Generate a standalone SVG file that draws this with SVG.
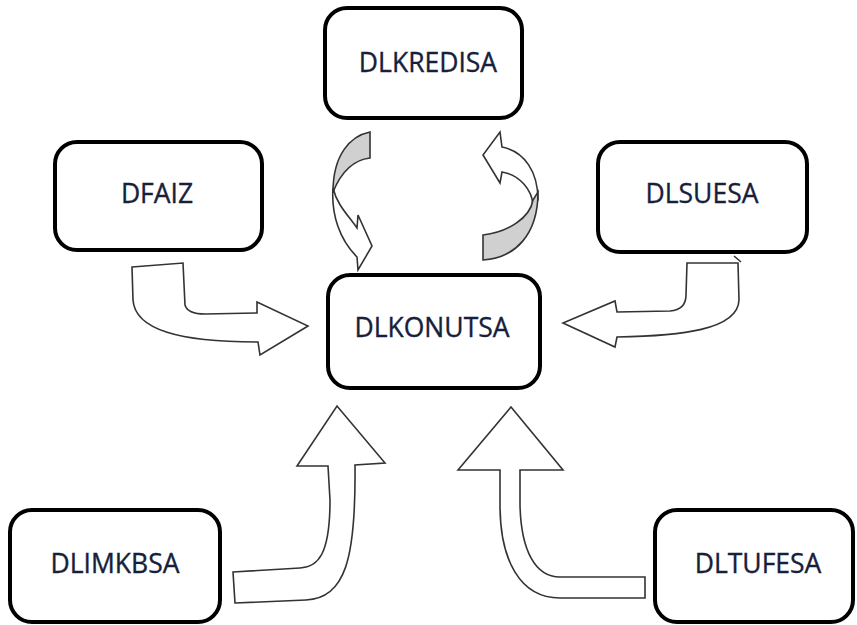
<svg xmlns="http://www.w3.org/2000/svg" width="857" height="625" viewBox="0 0 857 625">
  <style>
    .box { fill: #ffffff; stroke: #000000; stroke-width: 4; }
    .label { font-family: "Open Sans", "Liberation Sans", sans-serif; font-size: 26.5px; fill: #17203a; stroke: #17203a; stroke-width: 0.35; text-anchor: middle; }
    .arrow { fill: #ffffff; stroke: #333333; stroke-width: 1.6; stroke-linejoin: miter; }
    .back { fill: #d0d0d0; stroke: #333333; stroke-width: 1.6; }
  </style>
  <rect width="857" height="625" fill="#ffffff"/>

  <g id="connectors">
    <!-- DFAIZ to DLKONUTSA -->
    <path class="arrow" d="M132,267 L183,263 L185,305 C187,312 195,314 205,314 L257,313 L257,302 L308,326 L260,355 L258,342 C180,342 135,330 133,300 Z"/>
    <!-- DLSUESA to DLKONUTSA -->
    <path class="arrow" stroke="#555555" d="M687,263 L738,263 L739,300 C738,330 680,336 617,337 L615,347 L563,323 L615,301 L617,312 L670,311 C682,310 686,303 686,295 Z"/>
    <path class="arrow" d="M734,256 L741,262"/>
    <!-- DLIMKBSA to DLKONUTSA -->
    <path class="arrow" d="M233,572 L300,568 C318,567 330,555 330,500 L328,466 L297,466 L337,406 L385,463 L355,465 C356,560 345,598 306,600 L235,603 Z"/>
    <!-- DLTUFESA to DLKONUTSA -->
    <path class="arrow" d="M458,470 L511,407 L563,470 L520,470 L520,505 C521,550 535,577 560,577 L645,577 L645,598 L560,598 C520,598 500,560 500,505 L500,470 Z"/>
    <!-- DLKREDISA to DLKONUTSA (circular, left) -->
    <path class="arrow" d="M333,188 C331,215 340,240 357,257 L358,270 L372,246 L358,215 L357,228 C348,215 337,205 333,188 Z"/>
    <path class="back" d="M370,132 C350,136 333,155 333,192 C340,175 352,160 370,158 Z"/>
    <!-- DLKONUTSA to DLKREDISA (circular, right) -->
    <path class="arrow" d="M500,132 L502,147 C525,152 538,172 538,200 L533,205 C532,190 520,175 502,172 L500,183 L483,155 Z"/>
    <path class="back" d="M538,192 C538,235 515,258 483,260 L483,235 C508,232 530,218 533,200 Z"/>
  </g>

  <g id="node-dlkredisa">
    <rect class="box" x="325" y="8" width="197" height="110" rx="22"/>
    <text class="label" x="428" y="72">DLKREDISA</text>
  </g>
  <g id="node-dfaiz">
    <rect class="box" x="55" y="142" width="207" height="108" rx="22"/>
    <text class="label" x="157" y="203">DFAIZ</text>
  </g>
  <g id="node-dlsuesa">
    <rect class="box" x="598" y="142" width="209" height="110" rx="22"/>
    <text class="label" x="702" y="203">DLSUESA</text>
  </g>
  <g id="node-dlkonutsa">
    <rect class="box" x="328" y="275" width="212" height="113" rx="22"/>
    <text class="label" x="432" y="337">DLKONUTSA</text>
  </g>
  <g id="node-dlimkbsa">
    <rect class="box" x="10" y="510" width="210" height="112" rx="22"/>
    <text class="label" x="115" y="573">DLIMKBSA</text>
  </g>
  <g id="node-dltufesa">
    <rect class="box" x="655" y="510" width="198" height="112" rx="22"/>
    <text class="label" x="758" y="573">DLTUFESA</text>
  </g>
</svg>
